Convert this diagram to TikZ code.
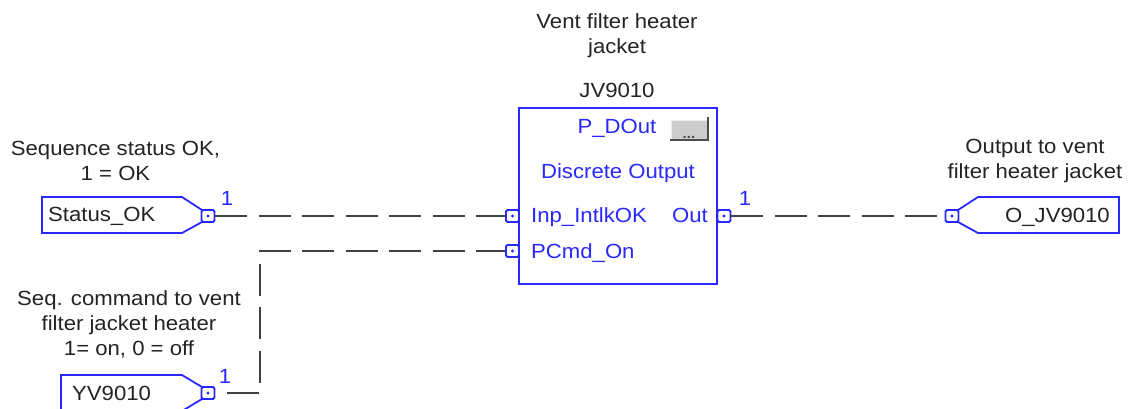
\documentclass[tikz,border=0pt]{standalone}
\usepackage{fontspec}
\setmainfont{Liberation Sans}[FakeStretch=1.08]
\newcommand\myfs{\fontsize{20.5}{25}\selectfont}
\definecolor{pblue}{RGB}{40,40,255}
\definecolor{txtgray}{RGB}{35,35,35}
\definecolor{wiregray}{RGB}{65,65,65}
\tikzset{
  lbl/.style={text=txtgray, font=\myfs, align=center, inner sep=0pt},
  blutxt/.style={text=pblue, font=\myfs, inner sep=0pt},
  tagtxt/.style={text=txtgray, font=\myfs, inner sep=0pt},
  tagshape/.style={draw=pblue, line width=1.8pt, line join=miter},
  pinsq/.style={draw=pblue, fill=white, line width=1.8pt, rounded corners=1.5pt,
    minimum width=13pt, minimum height=12pt, inner sep=0pt},
  wire/.style={draw=wiregray, line width=2pt, dash pattern=on 32pt off 11.5pt},
  blockbox/.style={draw=pblue, line width=2pt, minimum width=198pt, minimum height=176pt, inner sep=0pt}
}
\begin{document}
\begin{tikzpicture}[x=1pt,y=-1pt]
\useasboundingbox (0,0) rectangle (1136,408);
% block
\node[blockbox] (blk) at (618,196) {};
\node[blutxt, anchor=base] (ptype) at (617,133) {P\_DOut};
\node[blutxt, anchor=base] (pdesc) at (618,178) {Discrete Output};
\node[blutxt, anchor=base west] (inp1) at (531,222) {Inp\_IntlkOK};
\node[blutxt, anchor=base west] (inp2) at (531,258) {PCmd\_On};
\node[blutxt, anchor=base east] (outp) at (708,222) {Out};
% button
\fill[gray!40] (671,121) rectangle (707,139);
\draw[gray!15, line width=1pt] (671,139) -- (671,120) -- (707,120);
\draw[black!70, line width=1.6pt] (670,140) -- (708,140) -- (708,117);
\node[inner sep=0pt, font=\fontsize{14}{14}\selectfont\bfseries, text=black!70, anchor=base] (btn) at (689,138) {...};
% block titles
\node[lbl, anchor=base] (blktitle1) at (617,28) {Vent filter heater};
\node[lbl, anchor=base] (blktitle2) at (617,53) {jacket};
\node[lbl, anchor=base] (blktag) at (617,97) {JV9010};
% pins on block
\node[pinsq] (ip1) at (512.5,216) {};
\fill[pblue] (ip1.center) circle (1.6pt);
\node[pinsq] (ip2) at (512.5,251) {};
\fill[pblue] (ip2.center) circle (1.6pt);
\node[pinsq] (op1) at (724,216) {};
\fill[pblue] (op1.center) circle (1.6pt);
% Status_OK tag
\draw[tagshape] (42,197) -- (182,197) -- (202,210) -- (202,222) -- (182,233) -- (42,233) -- cycle;
\node[pinsq] (tp1) at (208,216) {};
\fill[pblue] (tp1.center) circle (1.6pt);
\node[tagtxt, anchor=base west] (tag1) at (48,221) {Status\_OK};
\node[blutxt, anchor=base] (one1) at (227,205) {1};
\node[lbl] (desc1) at (115.5,161) {Sequence status OK,\\1 = OK};
% O_JV9010 tag
\draw[tagshape] (1119,197) -- (978,197) -- (958,210) -- (958,222) -- (978,233) -- (1119,233) -- cycle;
\node[pinsq] (tp2) at (952,216) {};
\fill[pblue] (tp2.center) circle (1.6pt);
\node[tagtxt, anchor=base east] (tag2) at (1110,222) {O\_JV9010};
\node[blutxt, anchor=base] (one2) at (745,205) {1};
\node[lbl] (desc2) at (1035,161) {Output to vent\\filter heater jacket};
% YV9010 tag
\draw[tagshape] (61,375) -- (182,375) -- (202,387) -- (202,399) -- (182,411) -- (61,411) -- cycle;
\node[pinsq] (tp3) at (208,393) {};
\fill[pblue] (tp3.center) circle (1.6pt);
\node[tagtxt, anchor=base west] (tag3) at (72,400) {YV9010};
\node[blutxt, anchor=base] (one3) at (225,383) {1};
\node[lbl] (desc3) at (129,324) {Seq. command to vent\\filter jacket heater\\1= on, 0 = off};
% wires
\coordinate (bend) at (260,0);
\draw[wire] (tp1.east) -- (ip1.west);
\draw[wire] (op1.east) -- (tp2.west);
\draw[wire, dash phase=32pt] (tp3.east) -| (bend |- ip2) -- (ip2.west);
\end{tikzpicture}
\end{document}
